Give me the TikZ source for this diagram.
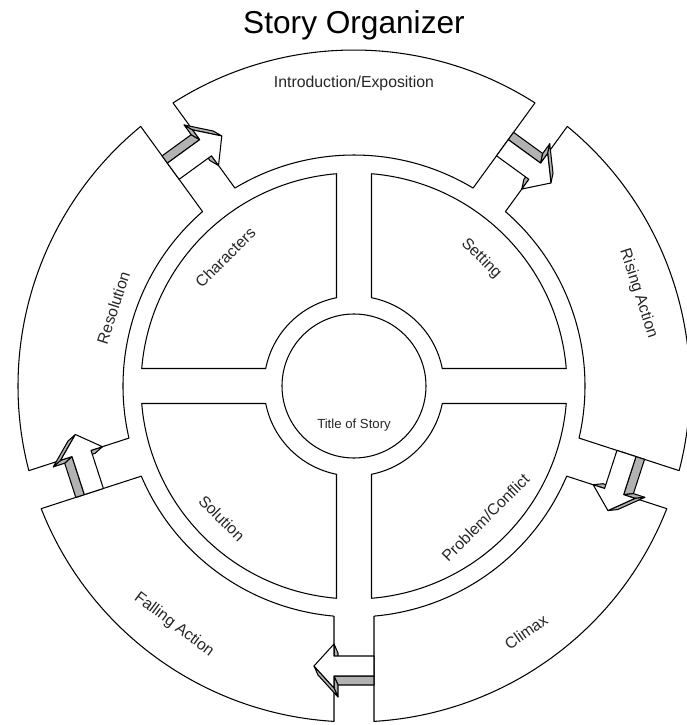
\documentclass[tikz,border=0pt]{standalone}
\usepackage{fontspec}
\setmainfont{Liberation Sans}

\tikzset{
  % 3D block arrow sitting in a gap of the outer ring (gap points up, arrow points clockwise)
  gaparrow/.pic={
    \draw[side] (20,270) -- (20,258) -- (16,267) -- (16,279) -- cycle;
    \draw[side] (20,290) -- (-20,290) -- (-20,299) -- (16,299) -- cycle;
    \draw[side] (20,302) -- (20,290) -- (16,299) -- (16,311) -- cycle;
    \draw[side] (40,280) -- (20,302) -- (16,311) -- (36,289) -- cycle;
    \draw[face] (-20,270) -- (20,270) -- (20,258) -- (40,280) -- (20,302)
      -- (20,290) -- (-20,290) -- cycle;
  }
}

\begin{document}
\begin{tikzpicture}[x=0.2mm, y=0.2mm, line width=0.6pt,
    seg/.style={draw, fill=white, line join=round},
    quad/.style={draw, fill=white, line join=round},
    face/.style={draw, fill=white, line join=round},
    side/.style={draw, fill=gray!60, line join=round},
    lbl/.style={font=\fontsize{9}{11}\selectfont, text=black!85}]

  \useasboundingbox (-354,-339) rectangle (333,386);

  % ---- title ----
  \node[font=\fontsize{18}{21}\selectfont] (title) at (0,361) {Story Organizer};

  % ---- outer ring: five parts of the plot ----
  \foreach \c in {90,18,-54,-126,162} {
    \draw[seg, rotate=\c] (-31.03:231) arc[start angle=-31.03, end angle=31.03, radius=231]
      -- (32.59:336) arc[start angle=32.59, end angle=-32.59, radius=336] -- cycle;
  }

  % arrows in the gaps
  \foreach \g in {126,54,-18,-90,198}
    \path pic[rotate=\g-90] {gaparrow};

  % ---- inner quadrants ----
  \foreach \q in {0,90,180,270} {
    \draw[quad, rotate=\q] (11.21:90) arc[start angle=11.21, end angle=78.79, radius=90]
      -- (85.29:213) arc[start angle=85.29, end angle=4.71, radius=213] -- cycle;
  }

  \node[draw, circle, minimum size=28.8mm, line width=0.6pt] (hub) at (0,0) {};
  \node[font=\fontsize{7.5}{9}\selectfont, text=black!85] (storytitle) at (0,-39) {Title of Story};

  % quadrant labels
  \node[lbl, rotate=45]  (characters) at (135:182) {Characters};
  \node[lbl, rotate=-45] (setting)    at (45:180)  {Setting};
  \node[lbl, rotate=-45] (solution)   at (225:187) {Solution};
  \node[lbl, rotate=45]  (problem)    at (-45:186) {Problem/Conflict};

  % ring labels
  \node[lbl]             (intro)      at (90:303)  {Introduction/Exposition};
  \node[lbl, rotate=-72] (rising)     at (18:299)  {Rising Action};
  \node[lbl, rotate=35]  (climax)     at (-55:300) {Climax};
  \node[lbl, rotate=-37] (falling)    at (233:299) {Falling Action};
  \node[lbl, rotate=72]  (resolution) at (162:253) {Resolution};

\end{tikzpicture}
\end{document}
